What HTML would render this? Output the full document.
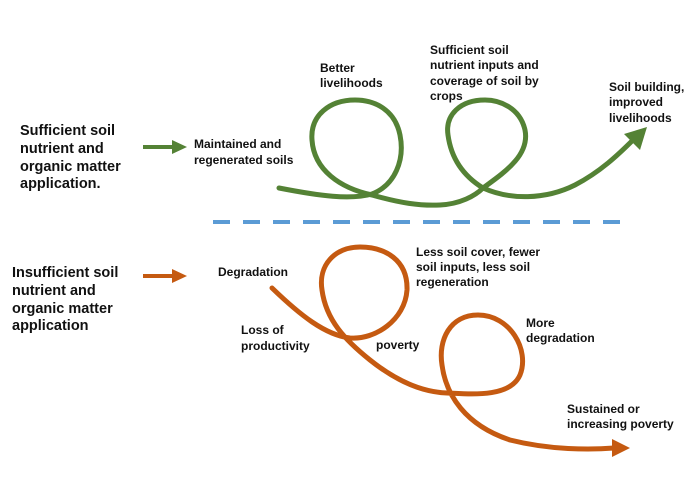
<!DOCTYPE html>
<html><head><meta charset="utf-8"><style>
html,body{margin:0;padding:0;background:#fff;}
svg{display:block;}
text{font-family:"Liberation Sans",Arial,sans-serif;font-weight:bold;fill:#111;}
.b{font-size:14.5px;}
.s{font-size:12px;}
</style></head><body>
<svg width="700" height="477" viewBox="0 0 700 477" xmlns="http://www.w3.org/2000/svg">
<rect width="700" height="477" fill="#fff"/>
<text x="20" y="135" class="b">Sufficient soil</text>
<text x="20" y="153" class="b">nutrient and</text>
<text x="20" y="171" class="b">organic matter</text>
<text x="20" y="188" class="b">application.</text>
<text x="12" y="277" class="b">Insufficient soil</text>
<text x="12" y="295" class="b">nutrient and</text>
<text x="12" y="313" class="b">organic matter</text>
<text x="12" y="330" class="b">application</text>
<line x1="143" y1="147" x2="174" y2="147" stroke="#548235" stroke-width="4"/>
<polygon points="172,140 187,147 172,154" fill="#548235"/>
<line x1="143" y1="276" x2="174" y2="276" stroke="#c55a11" stroke-width="4"/>
<polygon points="172,269 187,276 172,283" fill="#c55a11"/>
<path d="M279,188 C320,196 350,200 372,194 C395,185 405,160 400,135 C395,110 375,100 355,100 C330,100 310,115 312,140 C314,170 340,188 372,195 C400,203 420,206 440,205 C460,204 475,196 483,188 C505,172 530,155 525,130 C520,108 500,100 485,100 C460,100 445,115 448,135 C452,165 470,180 483,188 C510,200 545,200 575,185 C600,172 618,155 634,139" fill="none" stroke="#548235" stroke-width="5" stroke-linecap="round"/>
<polygon points="647,127 624,134 640,150" fill="#548235"/>
<line x1="213" y1="222" x2="630" y2="222" stroke="#5b9bd5" stroke-width="4" stroke-dasharray="17,13"/>
<path d="M272,288 C300,315 325,335 350,338 C375,340 405,320 407,290 C408,260 385,247 360,247 C335,247 318,265 322,290 C326,320 345,340 370,360 C395,380 420,392 447,393 C470,394 510,398 520,375 C530,350 510,315 478,315 C450,315 438,340 442,365 C446,395 465,425 510,440 C550,450 590,450 614,448" fill="none" stroke="#c55a11" stroke-width="5" stroke-linecap="round"/>
<polygon points="630,448 612,439 612,457" fill="#c55a11"/>
<text x="194" y="148" class="s">Maintained and</text>
<text x="194" y="164" class="s">regenerated soils</text>
<text x="320" y="72" class="s">Better</text>
<text x="320" y="87" class="s">livelihoods</text>
<text x="430" y="54" class="s">Sufficient soil</text>
<text x="430" y="69" class="s">nutrient inputs and</text>
<text x="430" y="85" class="s">coverage of soil by</text>
<text x="430" y="100" class="s">crops</text>
<text x="609" y="91" class="s">Soil building,</text>
<text x="609" y="106" class="s">improved</text>
<text x="609" y="122" class="s">livelihoods</text>
<text x="218" y="276" class="s">Degradation</text>
<text x="416" y="256" class="s">Less soil cover, fewer</text>
<text x="416" y="271" class="s">soil inputs, less soil</text>
<text x="416" y="286" class="s">regeneration</text>
<text x="241" y="334" class="s">Loss of</text>
<text x="241" y="350" class="s">productivity</text>
<text x="376" y="349" class="s">poverty</text>
<text x="526" y="327" class="s">More</text>
<text x="526" y="342" class="s">degradation</text>
<text x="567" y="413" class="s">Sustained or</text>
<text x="567" y="428" class="s">increasing poverty</text>
</svg>
</body></html>
